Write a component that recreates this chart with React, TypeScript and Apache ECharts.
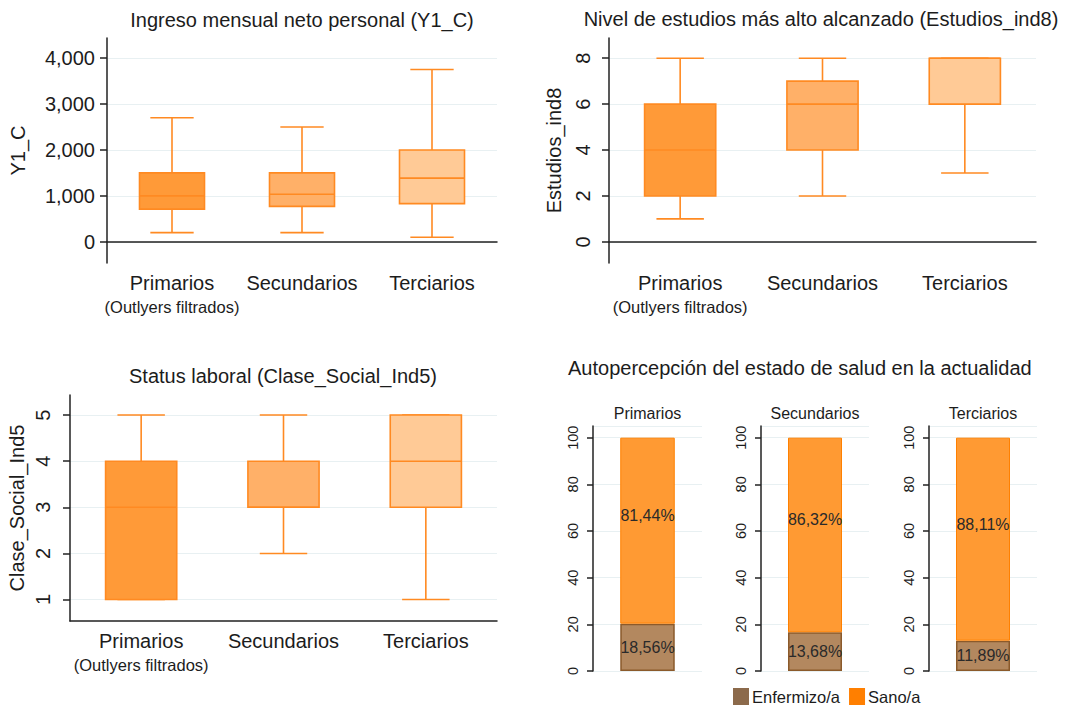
import React, { useEffect, useRef } from 'react';
import * as echarts from 'echarts';

const categories = ['Primarios', 'Secundarios', 'Terciarios'];
const primNote = '(Outlyers filtrados)';

// [min, Q1, median, Q3, max]
const ingresoBox = [
  [200, 710, 1000, 1500, 2700],
  [200, 770, 1035, 1500, 2500],
  [100, 830, 1385, 2000, 3750],
];
const estudiosBox = [
  [1, 2, 4, 6, 8],
  [2, 4, 6, 7, 8],
  [3, 6, 8, 8, 8],
];
const claseBox = [
  [1, 1, 3, 4, 5],
  [2, 3, 3, 4, 5],
  [1, 3, 4, 5, 5],
];
const ingresoTicks = [0, 1000, 2000, 3000, 4000];
const estudiosTicks = [0, 2, 4, 6, 8];
const claseTicks = [1, 2, 3, 4, 5];

const saludLegend = ['Enfermizo/a', 'Sano/a'];
const enfermoBar = [20.3, 16.6, 13.0];
const sanoBar = [79.7, 83.4, 87.0];
const enfermoLabel = [18.56, 13.68, 11.89];
const sanoLabel = [81.44, 86.32, 88.11];

const titles = [
  'Ingreso mensual neto personal (Y1_C)',
  'Nivel de estudios más alto alcanzado (Estudios_ind8)',
  'Status laboral (Clase_Social_Ind5)',
  'Autopercepción del estado de salud en la actualidad',
];

const FONT = '"Liberation Sans", Arial, Helvetica, sans-serif';
const TXT = '#1c1c1c';
const AXIS = '#222222';
const GRIDC = '#E8F0F2';
const STROKE = '#FF8A22';
const FILLS = ['#FF9A38', '#FFB068', '#FFCA96'];

const fmtPct = (v: number) => v.toFixed(2).replace('.', ',') + '%';

const boxRender = (params: any, api: any) => {
  const x = api.value(0);
  const pts = [1, 2, 3, 4, 5].map((k) => api.coord([x, api.value(k)]));
  const cx = pts[0][0];
  const band = api.size([1, 0])[0];
  const bw = band * 0.5;
  const cw = band / 3;
  const [pMin, pQ1, pMed, pQ3, pMax] = pts.map((p: number[]) => p[1]);
  const st = { stroke: STROKE, lineWidth: 1.6 };
  return {
    type: 'group',
    children: [
      { type: 'line', shape: { x1: cx, y1: pQ3, x2: cx, y2: pMax }, style: st },
      { type: 'line', shape: { x1: cx, y1: pQ1, x2: cx, y2: pMin }, style: st },
      { type: 'line', shape: { x1: cx - cw / 2, y1: pMax, x2: cx + cw / 2, y2: pMax }, style: st },
      { type: 'line', shape: { x1: cx - cw / 2, y1: pMin, x2: cx + cw / 2, y2: pMin }, style: st },
      {
        type: 'rect',
        shape: { x: cx - bw / 2, y: pQ3, width: bw, height: pQ1 - pQ3 },
        style: { fill: FILLS[params.dataIndex], stroke: STROKE, lineWidth: 1.6 },
      },
      { type: 'line', shape: { x1: cx - bw / 2, y1: pMed, x2: cx + bw / 2, y2: pMed }, style: st },
    ],
  };
};

function yAxisCfg(
  gridIndex: number,
  min: number,
  max: number,
  ticks: number[],
  name: string,
  nameGap: number,
  rotate: number,
  margin: number,
  formatter?: (v: number) => string
) {
  return {
    type: 'value',
    gridIndex,
    min,
    max,
    name,
    nameLocation: 'middle',
    nameGap,
    nameTextStyle: { fontSize: 20, color: TXT, fontFamily: FONT },
    axisLine: { show: true, lineStyle: { color: AXIS, width: 1.5 } },
    axisTick: { show: true, length: 7, customValues: ticks, lineStyle: { color: AXIS, width: 1.5 } },
    axisLabel: {
      customValues: ticks,
      rotate,
      margin,
      fontSize: 20,
      color: TXT,
      fontFamily: FONT,
      formatter: formatter || ((v: number) => String(v)),
    },
    splitLine: { show: true, lineStyle: { color: GRIDC, width: 1.2 } },
  };
}

function xAxisCfg(gridIndex: number, margin: number) {
  return {
    type: 'category',
    gridIndex,
    data: categories,
    axisLine: { show: true, lineStyle: { color: AXIS, width: 1.5 } },
    axisTick: { show: false },
    splitLine: { show: false },
    axisLabel: {
      interval: 0,
      margin,
      color: TXT,
      fontFamily: FONT,
      formatter: (v: string) => (v === categories[0] ? `{a|${v}}\n{b|${primNote}}` : `{a|${v}}`),
      rich: {
        a: { fontSize: 20, lineHeight: 24, color: TXT, fontFamily: FONT },
        b: { fontSize: 16.5, lineHeight: 24, color: TXT, fontFamily: FONT },
      },
    },
  };
}

function buildOption() {
  const grid: any[] = [
    { left: 107, right: 594, top: 38, bottom: 443 },
    { left: 609, right: 55, top: 38, bottom: 443 },
    { left: 70, right: 594, top: 395, bottom: 85 },
    { left: 593, width: 109, top: 426, bottom: 35 },
    { left: 761, width: 108, top: 426, bottom: 35 },
    { left: 929, width: 108, top: 426, bottom: 35 },
  ];
  const xAxis: any[] = [xAxisCfg(0, 8), xAxisCfg(1, 8), xAxisCfg(2, 8)];
  const yAxis: any[] = [
    yAxisCfg(0, -462, 4437, ingresoTicks, 'Y1_C', 79, 0, 12, (v) => v.toLocaleString('en-US')),
    yAxisCfg(1, -0.92, 8.88, estudiosTicks, 'Estudios_ind8', 45, 90, 16),
    yAxisCfg(2, 0.535, 5.435, claseTicks, 'Clase_Social_Ind5', 43, 90, 17),
  ];
  const series: any[] = [
    { type: 'custom', xAxisIndex: 0, yAxisIndex: 0, renderItem: boxRender, encode: { x: 0, y: [1, 2, 3, 4, 5] }, data: ingresoBox.map((b, i) => [i, ...b]) },
    { type: 'custom', xAxisIndex: 1, yAxisIndex: 1, renderItem: boxRender, encode: { x: 0, y: [1, 2, 3, 4, 5] }, data: estudiosBox.map((b, i) => [i, ...b]) },
    { type: 'custom', xAxisIndex: 2, yAxisIndex: 2, renderItem: boxRender, encode: { x: 0, y: [1, 2, 3, 4, 5] }, data: claseBox.map((b, i) => [i, ...b]) },
  ];

  categories.forEach((cat, g) => {
    const gi = 3 + g;
    xAxis.push({
      type: 'category',
      gridIndex: gi,
      position: 'top',
      data: [cat],
      axisLine: { show: false },
      axisTick: { show: false },
      splitLine: { show: false },
      axisLabel: { margin: 5, fontSize: 16, color: TXT, fontFamily: FONT },
    });
    yAxis.push({
      type: 'value',
      gridIndex: gi,
      min: 0,
      max: 105,
      interval: 20,
      axisLine: { show: true, lineStyle: { color: AXIS, width: 1.5 } },
      axisTick: { show: true, length: 6, lineStyle: { color: AXIS, width: 1.5 } },
      axisLabel: {
        rotate: 90,
        margin: 13,
        fontSize: 14.5,
        color: TXT,
        fontFamily: FONT,
        showMaxLabel: false,
        formatter: (v: number) => (v > 100 ? '' : String(v)),
      },
      splitLine: { show: true, lineStyle: { color: GRIDC, width: 1.2 } },
    });
    series.push({
      type: 'bar',
      name: saludLegend[0],
      xAxisIndex: gi,
      yAxisIndex: gi,
      stack: 'salud' + g,
      barWidth: '50%',
      data: [enfermoBar[g]],
      itemStyle: { color: '#B3885F', borderColor: '#8B5A2B', borderWidth: 1.5 },
      label: {
        show: true,
        position: 'inside',
        formatter: () => fmtPct(enfermoLabel[g]),
        fontSize: 16,
        color: '#2a2a2a',
        fontFamily: FONT,
      },
    });
    series.push({
      type: 'bar',
      name: saludLegend[1],
      xAxisIndex: gi,
      yAxisIndex: gi,
      stack: 'salud' + g,
      barWidth: '50%',
      data: [sanoBar[g]],
      itemStyle: { color: '#FF9A33', borderColor: '#FF8000', borderWidth: 1 },
      label: {
        show: true,
        position: 'inside',
        offset: [0, -15],
        formatter: () => fmtPct(sanoLabel[g]),
        fontSize: 16,
        color: '#2a2a2a',
        fontFamily: FONT,
      },
    });
  });

  const titleStyle = { fontSize: 20, fontWeight: 'normal', color: TXT, fontFamily: FONT };
  return {
    animation: false,
    backgroundColor: '#ffffff',
    title: [
      { text: titles[0], left: 302, top: 10, textAlign: 'center', padding: 0, textStyle: titleStyle },
      { text: titles[1], left: 821, top: 9, textAlign: 'center', padding: 0, textStyle: titleStyle },
      { text: titles[2], left: 283, top: 366, textAlign: 'center', padding: 0, textStyle: titleStyle },
      { text: titles[3], left: 568, top: 358, textAlign: 'left', padding: 0, textStyle: titleStyle },
    ],
    legend: {
      left: 733,
      top: 688,
      padding: 0,
      itemWidth: 16,
      itemHeight: 17,
      itemGap: 9,
      icon: 'rect',
      textStyle: { fontSize: 16.5, color: TXT, fontFamily: FONT, padding: [0, 0, 0, -2] },
      data: [
        { name: saludLegend[0], itemStyle: { color: '#8C6A4B', borderWidth: 0 } },
        { name: saludLegend[1], itemStyle: { color: '#FF7F00', borderWidth: 0 } },
      ],
    },
    grid,
    xAxis,
    yAxis,
    series,
  };
}

export default function App() {
  const ref = useRef<HTMLDivElement>(null);
  useEffect(() => {
    if (!ref.current) return;
    const chart = echarts.init(ref.current, null, { renderer: 'svg' });
    chart.setOption(buildOption() as any);
    return () => chart.dispose();
  }, []);
  return (
    <div
      ref={ref}
      style={{ position: 'fixed', left: 0, top: 0, width: 1091, height: 706, background: '#fff' }}
    />
  );
}
